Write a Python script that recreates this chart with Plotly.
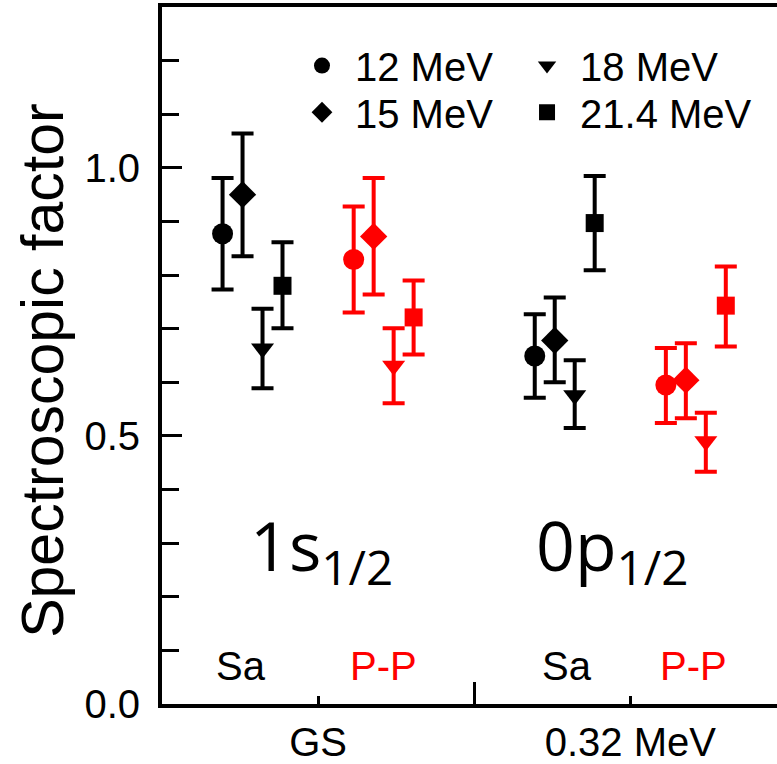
import plotly.graph_objects as go

# ---------------- data ----------------
states = ["GS", "0.32 MeV"]
energies = ["12 MeV", "15 MeV", "18 MeV", "21.4 MeV"]
symbols = ["circle", "diamond", "triangle-down", "square"]
marker_sizes = [21, 21, 20, 18]

# Sa analysis (black): value, upper bound, lower bound for [GS, 0.32 MeV]
sa_val = [[0.877, 0.649], [0.950, 0.678], [0.663, 0.576], [0.780, 0.897]]
sa_hi = [[0.981, 0.727], [1.064, 0.758], [0.737, 0.641], [0.861, 0.985]]
sa_lo = [[0.773, 0.571], [0.835, 0.600], [0.589, 0.515], [0.701, 0.809]]

# P-P analysis (red)
pp_val = [[0.829, 0.595], [0.872, 0.604], [0.631, 0.490], [0.721, 0.743]]
pp_hi = [[0.928, 0.664], [0.981, 0.673], [0.701, 0.543], [0.790, 0.816]]
pp_lo = [[0.730, 0.524], [0.764, 0.533], [0.561, 0.433], [0.652, 0.667]]

method_labels = ["Sa", "P-P"]
orbital_labels = ["1s<sub>1/2</sub>", "0p<sub>1/2</sub>"]

# ---------------- figure ----------------
FONT = "Arial, Liberation Sans, sans-serif"
fig = go.Figure()

group_offset = [-0.21, 0.21]
energy_offset = [-0.096, -0.032, 0.032, 0.096]
legend_ids = ["legend", "legend2", "legend3", "legend4"]

for m, (vals, his, los, color) in enumerate(
        [(sa_val, sa_hi, sa_lo, "black"), (pp_val, pp_hi, pp_lo, "red")]):
    for e in range(4):
        xs = [i + 1 + group_offset[m] + energy_offset[e] for i in range(len(states))]
        ys = vals[e]
        up = [h - v for h, v in zip(his[e], ys)]
        dn = [v - l for v, l in zip(ys, los[e])]
        fig.add_trace(go.Scatter(
            x=xs, y=ys, mode="markers", name=energies[e],
            marker=dict(symbol=symbols[e], size=marker_sizes[e], color=color,
                        line=dict(width=0)),
            error_y=dict(type="data", symmetric=False, array=up, arrayminus=dn,
                         color=color, thickness=4, width=11),
            showlegend=(m == 0), legend=legend_ids[e],
        ))

# method labels
label_x = [0.753, 1.208, 1.798, 2.202]
for k, lx in enumerate(label_x):
    m = k % 2
    fig.add_annotation(x=lx, y=0.07, text=method_labels[m], showarrow=False,
                       font=dict(family=FONT, size=40,
                                 color="black" if m == 0 else "red"),
                       xanchor="center", yanchor="middle")

# orbital labels
for i, (lx, txt) in enumerate(zip([1.01, 1.94], orbital_labels)):
    fig.add_annotation(x=lx, y=0.29, text=txt, showarrow=False,
                       font=dict(family="Open Sans, Noto Sans, sans-serif", size=68,
                                 color="black"),
                       xanchor="center", yanchor="middle")

# y title
fig.add_annotation(text="Spectroscopic factor", textangle=-90, showarrow=False,
                   xref="paper", yref="paper", x=0, y=0.478, xshift=-119,
                   xanchor="center", yanchor="middle",
                   font=dict(family=FONT, size=59, color="black"))

legend_common = dict(orientation="h", xanchor="left", yanchor="middle",
                     font=dict(family=FONT, size=40), itemwidth=56,
                     bgcolor="rgba(0,0,0,0)", itemclick=False)

fig.update_layout(
    width=777, height=764,
    margin=dict(l=162, r=0, t=7, b=58),
    paper_bgcolor="white", plot_bgcolor="white",
    font=dict(family=FONT, color="black"),
    legend=dict(x=0.2065, y=0.916, **legend_common),
    legend2=dict(x=0.2065, y=0.849, **legend_common),
    legend3=dict(x=0.5724, y=0.916, **legend_common),
    legend4=dict(x=0.5724, y=0.849, **legend_common),
    xaxis=dict(range=[0.5, 2.47], tickvals=[1, 2], ticktext=states,
               ticks="inside", ticklen=8, tickwidth=3, tickcolor="black",
               showline=True, linewidth=4, linecolor="black", mirror=True,
               showgrid=False, zeroline=False,
               tickfont=dict(family=FONT, size=40, color="black"),
               minor=dict(tickvals=[1.5], ticks="inside", ticklen=22, tickwidth=3,
                          tickcolor="black", showgrid=False)),
    yaxis=dict(range=[0, 1.3], tickvals=[0, 0.5, 1.0], ticktext=["0.0", "0.5", "1.0"],
               ticks="inside", ticklen=20, tickwidth=3, tickcolor="black",
               showline=True, linewidth=4, linecolor="black",
               showgrid=False, zeroline=False, ticklabelstandoff=10,
               tickfont=dict(family=FONT, size=40, color="black"),
               minor=dict(dtick=0.1, tick0=0, ticks="inside", ticklen=17, tickwidth=3,
                          tickcolor="black", showgrid=False)),
)

fig.write_html("out.html", config={"displayModeBar": False},
               post_script="document.body.style.margin='0';"
                           "document.body.style.overflow='hidden';")
